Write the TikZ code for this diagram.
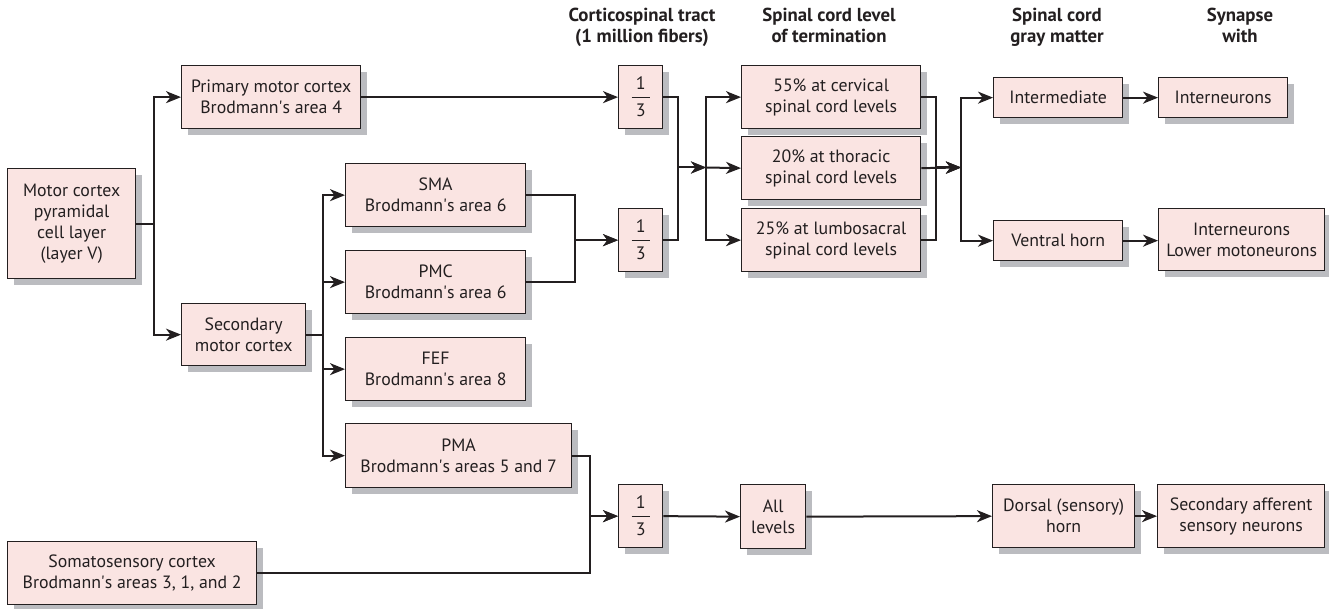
\documentclass[tikz,border=0pt]{standalone}
\usepackage{fontspec}
\setmainfont{PT Sans}
\usetikzlibrary{arrows.meta,shadows}
\definecolor{boxfill}{HTML}{FAE4E2}
\definecolor{boxshadow}{HTML}{BBBCC0}
\definecolor{ink}{HTML}{231F20}
\newcommand\ap{\textquotesingle}
\begin{document}
\begin{tikzpicture}[x=1pt,y=-1pt,
  box/.style={draw=ink, fill=boxfill, line width=1.3pt, inner sep=0pt,
    anchor=north west, align=center, text=ink,
    font=\fontsize{17.8}{21}\selectfont,
    drop shadow={shadow xshift=6pt, shadow yshift=-6pt, fill=boxshadow, opacity=1}},
  fracbox/.style={box, minimum width=44pt, minimum height=63pt,
    font=\fontsize{18}{27}\selectfont},
  head/.style={anchor=north, align=center, text=ink,
    font=\fontsize{18.8}{20.5}\selectfont\bfseries},
  link/.style={draw=ink, line width=2pt},
  arr/.style={link, -{Stealth[length=15pt,width=12pt,inset=4.5pt]}},
  fracbar/.style={draw=ink, line width=1.1pt}]
\useasboundingbox (0,0) rectangle (1329,609);

% column headings
\node[head] (h1) at (642,5) {Corticospinal tract\\(1 million fibers)};
\node[head] (h2) at (829,5) {Spinal cord level\\of termination};
\node[head] (h3) at (1057,5) {Spinal cord\\gray matter};
\node[head] (h4) at (1240,5) {Synapse\\with};

% cortical sources
\node[box, minimum width=128pt, minimum height=110pt] (mc) at (7,168) {Motor cortex\\pyramidal\\cell layer\\(layer V)};
\node[box, minimum width=179pt, minimum height=63pt] (pm) at (181,65) {Primary motor cortex\\Brodmann\ap s area 4};
\node[box, minimum width=124pt, minimum height=62pt] (sec) at (181,303) {Secondary\\motor cortex};
\node[box, minimum width=180pt, minimum height=63pt] (sma) at (345,163) {SMA\\Brodmann\ap s area 6};
\node[box, minimum width=180pt, minimum height=63pt] (pmc) at (345,250) {PMC\\Brodmann\ap s area 6};
\node[box, minimum width=180pt, minimum height=63pt] (fef) at (345,337) {FEF\\Brodmann\ap s area 8};
\node[box, minimum width=226pt, minimum height=64pt] (pma) at (345,423) {PMA\\Brodmann\ap s areas 5 and 7};
\node[box, minimum width=249pt, minimum height=63pt] (ss) at (7,541) {Somatosensory cortex\\Brodmann\ap s areas 3, 1, and 2};

% corticospinal thirds
\node[fracbox] (f1) at (618,65) {1\\3};
\node[fracbox] (f2) at (618,208) {1\\3};
\node[fracbox] (f3) at (618,484) {1\\3};
\foreach \f in {f1,f2,f3}
  \draw[fracbar] ([xshift=-9pt]\f.center) -- ++(18,0);

% levels of termination
\node[box, minimum width=179pt, minimum height=63pt] (c55) at (741,65) {55\% at cervical\\spinal cord levels};
\node[box, minimum width=179pt, minimum height=63pt] (c20) at (741,136) {20\% at thoracic\\spinal cord levels};
\node[box, minimum width=179pt, minimum height=63pt] (c25) at (741,208) {25\% at lumbosacral\\spinal cord levels};
\node[box, minimum width=65pt, minimum height=64pt] (all) at (740,484) {All\\levels};

% gray matter
\node[box, minimum width=129pt, minimum height=40pt] (imd) at (993,77) {Intermediate};
\node[box, minimum width=129pt, minimum height=40pt] (vh) at (993,220) {Ventral horn};
\node[box, minimum width=142pt, minimum height=63pt] (dh) at (992,484) {Dorsal (sensory)\\horn};

% targets
\node[box, minimum width=129pt, minimum height=40pt] (in1) at (1158,77) {Interneurons};
\node[box, minimum width=166pt, minimum height=62pt] (in2) at (1158,208) {Interneurons\\Lower motoneurons};
\node[box, minimum width=167pt, minimum height=63pt] (saf) at (1157,484) {Secondary afferent\\sensory neurons};

% junction points
\coordinate (j2) at (706,167.5);
\coordinate (j3) at (961,167.5);

% motor cortex fan-out
\draw[arr] (mc.east) -- ++(18,0) |- (pm.west);
\draw[arr] (mc.east) -- ++(18,0) |- (sec.west);
\draw[arr] (sec.east) -- ++(17,0) |- (sma.west);
\draw[arr] (sec.east) -- ++(17,0) |- (pmc.west);
\draw[arr] (sec.east) -- ++(17,0) |- (fef.west);
\draw[arr] (sec.east) -- ++(17,0) |- (pma.west);

% into the corticospinal tract
\draw[arr] (pm.east) -- (f1.west);
\draw[arr] (sma.east) -- ++(49,0) |- (f2.west);
\draw[arr] (pmc.east) -- ++(49,0) |- (f2.west);
\draw[arr] (pma.east) -- ++(18,0) |- (f3.west);
\draw[arr] (ss.east) -- ++(333,0) |- (f3.west);

% tract to spinal levels
\draw[arr] (f1.east) -- ++(15,0) |- (j2);
\draw[arr] (f2.east) -- ++(15,0) |- (j2);
\draw[arr] (j2) |- (c55.west);
\draw[arr] (j2) -- (c20.west);
\draw[arr] (j2) |- (c25.west);
\draw[arr] (f3.east) -- (all.west);

% spinal levels to gray matter
\draw[arr] (c55.east) -- ++(15,0) |- (j3);
\draw[arr] (c25.east) -- ++(15,0) |- (j3);
\draw[arr] (c20.east) -- (j3);
\draw[arr] (j3) |- (imd.west);
\draw[arr] (j3) |- (vh.west);
\draw[arr] (all.east) -- (dh.west);

% gray matter to targets
\draw[arr] (imd.east) -- (in1.west);
\draw[arr] (vh.east) -- (vh.east -| in2.west);
\draw[arr] (dh.east) -- (saf.west);
\end{tikzpicture}
\end{document}
